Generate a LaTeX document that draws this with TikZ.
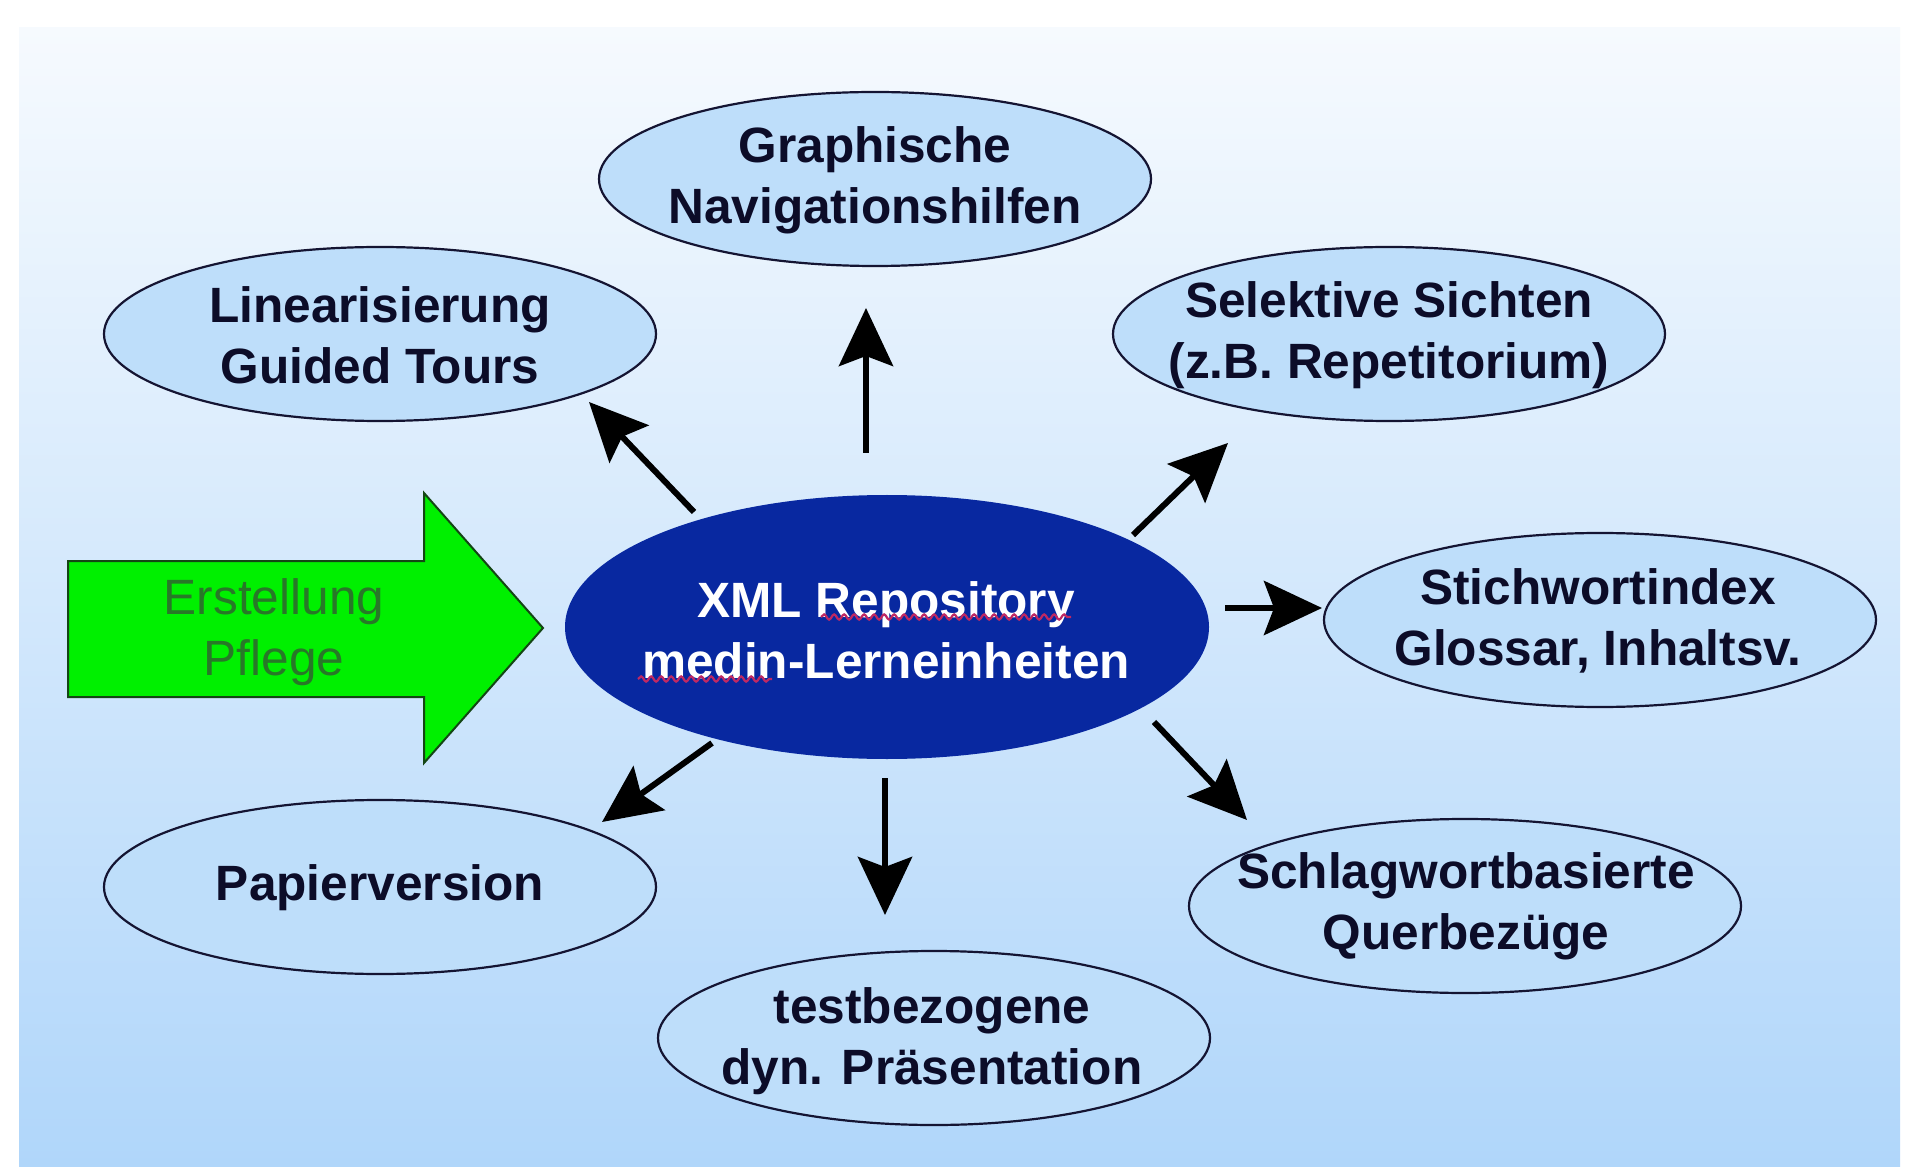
\documentclass[tikz,border=0pt]{standalone}
\usepackage{fontspec}
\setmainfont{Liberation Sans}
\usetikzlibrary{shapes.geometric,arrows.meta,decorations.pathmorphing}
\definecolor{bgtop}{RGB}{246,250,254}
\definecolor{bgbot}{RGB}{176,214,250}
\definecolor{ellfill}{RGB}{190,222,250}
\definecolor{ellline}{RGB}{20,20,50}
\definecolor{xmlblue}{RGB}{8,40,160}
\definecolor{txt}{RGB}{12,12,40}
\definecolor{arrgreen}{RGB}{0,240,0}
\definecolor{arrline}{RGB}{20,70,20}
\definecolor{greentxt}{RGB}{40,120,40}
\definecolor{wavy}{RGB}{190,40,100}
\begin{document}
\begin{tikzpicture}[x=0.5pt,y=-0.5pt,
  ell/.style={ellipse,draw=ellline,line width=1.1pt,fill=ellfill,minimum width=276pt,minimum height=87pt,inner sep=0pt},
  lbl/.style={align=center,text=txt,font=\fontsize{24.8}{30.5}\selectfont\bfseries,inner sep=0pt},
  arr/.style={line width=3pt,draw=black,-{Stealth[length=29pt,width=27pt,inset=5pt]}},
  wav/.style={draw=wavy,line width=1.1pt,decorate,decoration={snake,segment length=5pt,amplitude=1.3pt}}]
\useasboundingbox (0,0) rectangle (1905,1170);
\fill[white] (0,0) rectangle (1905,1170);
\shade[top color=bgtop,bottom color=bgbot] (19,28) rectangle (1900,1166);

% green arrow
\draw[fill=arrgreen,draw=arrline,line width=1pt] (68,561) -- (424,561) -- (424,493) -- (543,628) -- (424,763) -- (424,697) -- (68,697) -- cycle;
\node[align=center,text=greentxt,font=\fontsize{24.8}{30.5}\selectfont,inner sep=0pt] (pflege) at (274,632) {Erstellung\\Pflege};

% central node
\node[ellipse,fill=xmlblue,minimum width=322pt,minimum height=132pt,inner sep=0pt] (xml) at (887,627) {};
\node[lbl,text=white] (xmlT) at (886,630) {XML Repository\\medin-Lerneinheiten};
\draw[wav] (821,617) -- (1071,617);
\draw[wav] (638,679) -- (772,679);

% outer nodes
\node[ell] (gra) at (875,179) {};
\node[lbl] (graT) at (875,180) {Graphische\\Navigationshilfen};
\node[ell] (lin) at (380,334) {};
\node[lbl] (linT) at (380,335) {Linearisierung\\Guided Tours};
\node[ell] (sel) at (1389,334) {};
\node[lbl] (selT) at (1389,335) {Selektive Sichten\\(z.B. Repetitorium)};
\node[ell] (sti) at (1600,620) {};
\node[lbl] (stiT) at (1598,621) {Stichwortindex\\Glossar, Inhaltsv.};
\node[ell] (sch) at (1465,906) {};
\node[lbl] (schT) at (1466,906) {Schlagwortbasierte\\Querbezüge};
\node[ell] (tes) at (934,1038) {};
\node[lbl] (tesT) at (932,1041) {testbezogene\\dyn. Präsentation};
\node[ell] (pap) at (380,887) {};
\node[lbl] (papT) at (380,888) {Papierversion};

% arrows
\coordinate (aU1) at (866,453); \coordinate (aU2) at (866,308);
\coordinate (aUL1) at (694,512); \coordinate (aUL2) at (589,402);
\coordinate (aUR1) at (1133,535); \coordinate (aUR2) at (1228,443);
\coordinate (aR1) at (1225,608); \coordinate (aR2) at (1322,608);
\coordinate (aDL1) at (712,743); \coordinate (aDL2) at (602,822);
\coordinate (aD1) at (885,778); \coordinate (aD2) at (885,915);
\coordinate (aDR1) at (1154,722); \coordinate (aDR2) at (1247,820);
\draw[arr] (aU1) -- (aU2);
\draw[arr] (aUL1) -- (aUL2);
\draw[arr] (aUR1) -- (aUR2);
\draw[arr] (aR1) -- (aR2);
\draw[arr] (aDL1) -- (aDL2);
\draw[arr] (aD1) -- (aD2);
\draw[arr] (aDR1) -- (aDR2);
\end{tikzpicture}
\end{document}
